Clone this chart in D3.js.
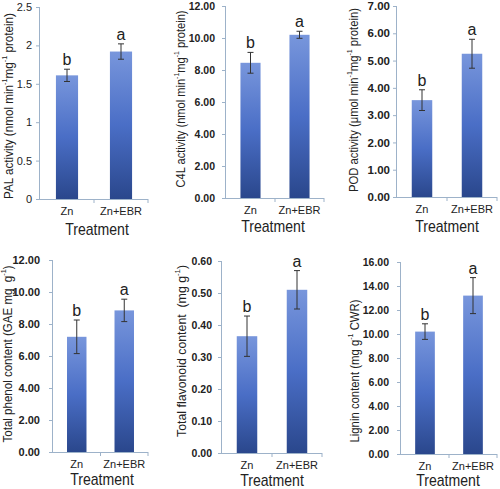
<!DOCTYPE html>
<html><head><meta charset="utf-8">
<script src="https://cdn.jsdelivr.net/npm/d3@7"></script>
<style>body{margin:0;background:#fff}svg{display:block}</style>
</head><body><svg id="c" width="500" height="489"></svg>
<script>
// ---- data ----
const categories = ["Zn", "Zn+EBR"];
const yLabels = [
  ["PAL activity (nmol min", "-1", "mg", "-1", " protein)"],
  ["C4L activity (nmol min", "-1", "mg", "-1", " protein)"],
  ["POD activity (\u03bcmol min", "-1", "mg", "-1", " protein)"],
  ["Total phenol content (GAE mg  g", "-1", ")"],
  ["Total flavonoid content  (mg g", "-1", ")"],
  ["Lignin content (mg g", "-1", " CWR)"]
];
const means = [[1.61, 1.92], [8.45, 10.2], [3.55, 5.25], [7.2, 8.85], [0.365, 0.51], [10.2, 13.2]];
const errors = [[0.08, 0.10], [0.65, 0.22], [0.38, 0.53], [1.05, 0.70], [0.063, 0.06], [0.65, 1.5]];
const letters = [["b", "a"], ["b", "a"], ["b", "a"], ["b", "a"], ["b", "a"], ["b", "a"]];
const yMaxes = [2.5, 12, 7, 12, 0.6, 16];
const yTickSteps = [0.5, 2, 1, 2, 0.1, 2];
const yTickFormats = ["", ".2f", ".2f", ".2f", ".2f", ".2f"];
const xTitle = "Treatment";

// ---- layout ----
const layout = [
  {x0: 40, x1: 148, y0: 7, y1: 199, lx: 9, ly: 106, ll: 186, tx: 97, ty: 235, tp: 4, fs: 11},
  {x0: 226, x1: 324, y0: 6, y1: 198, lx: 181, ly: 99, ll: 177, tx: 273, ty: 232, tp: 7, fs: 10.5},
  {x0: 397, x1: 497, y0: 6, y1: 197, lx: 354, ly: 100, ll: 184, tx: 447, ty: 232, tp: 3, fs: 11.5},
  {x0: 53, x1: 148, y0: 260, y1: 452, lx: 8, ly: 354, ll: 177, tx: 102, ty: 485, tp: 9, fs: 11},
  {x0: 222, x1: 322, y0: 261, y1: 453, lx: 182, ly: 351, ll: 172, tx: 272, ty: 486, tp: 6, fs: 10.5},
  {x0: 401, x1: 497, y0: 262, y1: 454, lx: 355, ly: 371, ll: 143, tx: 448, ty: 486, tp: 8, fs: 10.5}
];

const svg = d3.select("#c");
const defs = svg.append("defs");
const grad = defs.append("linearGradient").attr("id", "barg").attr("x1", 0).attr("y1", 0).attr("x2", 0).attr("y2", 1);
grad.append("stop").attr("offset", "0%").attr("stop-color", "#7896dc");
grad.append("stop").attr("offset", "50%").attr("stop-color", "#4a6ec6");
grad.append("stop").attr("offset", "100%").attr("stop-color", "#2a478c");

const axisColor = "#9db2c9";
const font = "'Liberation Sans', Arial, sans-serif";

layout.forEach((L, i) => {
  const g = svg.append("g");
  const x = d3.scaleBand().domain(categories).range([L.x0, L.x1]).paddingInner(0).paddingOuter(0);
  const y = d3.scaleLinear().domain([0, yMaxes[i]]).range([L.y1, L.y0]);
  const ticks = d3.range(0, yMaxes[i] + yTickSteps[i] / 2, yTickSteps[i]);
  const fmt = yTickFormats[i] ? d3.format(yTickFormats[i]) : (v => String(+v.toFixed(2)));

  // y axis
  const ya = g.append("g").attr("transform", `translate(${L.x0},0)`)
    .call(d3.axisLeft(y).tickValues(ticks).tickFormat(fmt).tickSize(4).tickPadding(L.tp));
  ya.select(".domain").attr("stroke", axisColor).attr("d", `M-0.5,${L.y0}V${L.y1}`);
  ya.selectAll(".tick line").attr("stroke", axisColor);
  ya.selectAll(".tick text").attr("font-family", font).attr("font-size", L.fs)
    .attr("fill", "#222").attr("font-weight", i === 0 ? "normal" : "bold");

  // x axis
  const xa = g.append("g").attr("transform", `translate(0,${L.y1})`)
    .call(d3.axisBottom(x).tickSize(0).tickPadding(8));
  xa.select(".domain").attr("stroke", axisColor).attr("d", `M${L.x0},0.5H${L.x1}`);
  xa.selectAll(".tick text").attr("font-family", font).attr("font-size", 11).attr("fill", "#222");
  // boundary ticks
  g.append("g").selectAll("line").data([L.x0 + x.bandwidth(), L.x1]).join("line")
    .attr("x1", d => d).attr("x2", d => d).attr("y1", L.y1).attr("y2", L.y1 + 4)
    .attr("stroke", axisColor);

  // bars
  const bw = x.bandwidth() * 0.41;
  const data = categories.map((c, j) => ({c, v: means[i][j], e: errors[i][j], l: letters[i][j]}));
  g.selectAll("rect.bar").data(data).join("rect").attr("class", "bar")
    .attr("x", d => x(d.c) + x.bandwidth() / 2 - bw / 2)
    .attr("width", bw)
    .attr("y", d => y(d.v))
    .attr("height", d => y(0) - y(d.v))
    .attr("fill", "url(#barg)");

  // error bars
  const eb = g.selectAll("g.err").data(data).join("g").attr("class", "err")
    .attr("stroke", "#333").attr("stroke-width", 1);
  eb.append("line").attr("x1", d => x(d.c) + x.bandwidth() / 2).attr("x2", d => x(d.c) + x.bandwidth() / 2)
    .attr("y1", d => y(d.v + d.e)).attr("y2", d => y(d.v - d.e));
  eb.append("line").attr("x1", d => x(d.c) + x.bandwidth() / 2 - 3).attr("x2", d => x(d.c) + x.bandwidth() / 2 + 3)
    .attr("y1", d => y(d.v + d.e)).attr("y2", d => y(d.v + d.e));
  eb.append("line").attr("x1", d => x(d.c) + x.bandwidth() / 2 - 3).attr("x2", d => x(d.c) + x.bandwidth() / 2 + 3)
    .attr("y1", d => y(d.v - d.e)).attr("y2", d => y(d.v - d.e));

  // letters
  g.selectAll("text.let").data(data).join("text").attr("class", "let")
    .attr("x", d => x(d.c) + x.bandwidth() / 2)
    .attr("y", d => y(d.v + d.e) - 4)
    .attr("text-anchor", "middle").attr("font-family", font).attr("font-size", 16).attr("fill", "#222")
    .text(d => d.l);

  // y label
  const yl = g.append("text").attr("transform", `translate(${L.lx},${L.ly}) rotate(-90)`)
    .attr("text-anchor", "middle").attr("dominant-baseline", "central")
    .attr("font-family", font).attr("font-size", 12).attr("fill", "#222")
    .attr("textLength", L.ll).attr("lengthAdjust", "spacingAndGlyphs");
  yLabels[i].forEach(part => {
    if (part === "-1") {
      yl.append("tspan").attr("font-size", 7.5).attr("baseline-shift", "super").text("-1");
    } else {
      yl.append("tspan").attr("xml:space", "preserve").text(part);
    }
  });

  // x title (slightly condensed like the reference)
  g.append("text").attr("transform", `translate(${L.tx},${L.ty}) scale(0.88,1)`)
    .attr("text-anchor", "middle")
    .attr("font-family", font).attr("font-size", 16).attr("fill", "#222").text(xTitle);
});
</script></body></html>
